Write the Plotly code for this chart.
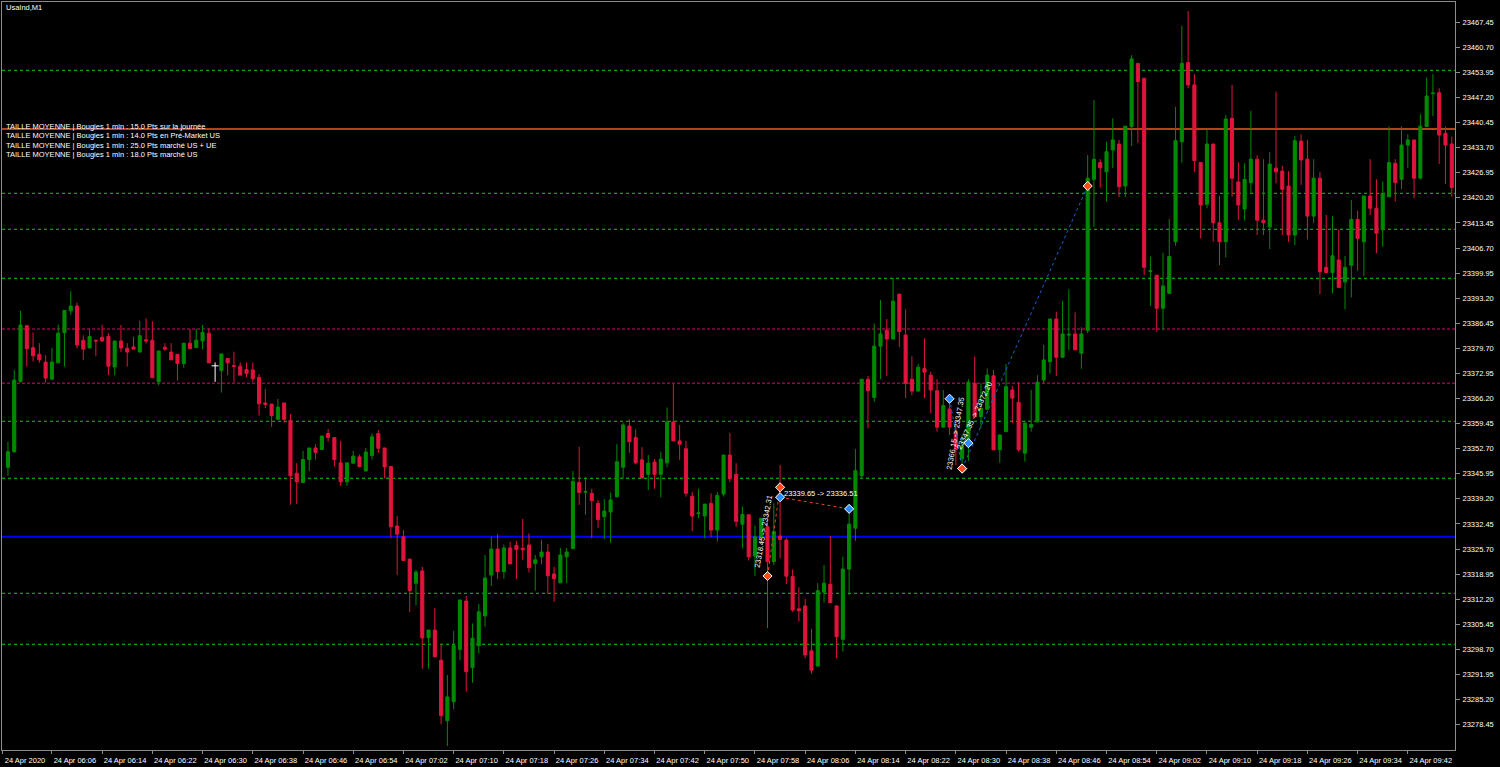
import plotly.graph_objects as go
import pandas as pd

# ---------------- data (UsaInd, M1, 24 Apr 2020, first bar 05:59) ----------------
first_bar = "2020-04-24 05:59"
opens = [
    23347.7, 23351.9, 23370.8, 23385.8, 23379.9, 23378.1, 23376.0, 23371.4, 23375.8, 23383.9,
    23389.8, 23391.1, 23381.9, 23379.8, 23381.9, 23382.7, 23382.9, 23374.7, 23381.7, 23379.7,
    23380.1, 23378.7, 23382.0, 23381.9, 23370.7, 23380.0, 23378.7, 23378.1, 23375.6, 23381.1,
    23379.9, 23381.7, 23383.8, 23375.0, 23373.7, 23377.0, 23375.1, 23374.9, 23374.0, 23373.9,
    23371.9, 23365.0, 23364.7, 23360.6, 23365.0, 23360.3, 23346.1, 23343.6, 23349.8, 23352.9,
    23352.5, 23356.8, 23355.7, 23348.9, 23343.8, 23348.8, 23350.5, 23346.7, 23350.9, 23356.8,
    23352.9, 23347.9, 23331.9, 23329.0, 23323.0, 23316.5, 23319.8, 23301.8, 23303.9, 23295.8,
    23279.5, 23284.6, 23298.7, 23311.7, 23293.8, 23299.7, 23307.7, 23318.7, 23325.7, 23319.6,
    23326.0, 23326.7, 23325.9, 23326.8, 23321.8, 23323.6, 23324.9, 23319.0, 23316.6, 23323.6,
    23325.8, 23343.6, 23341.0, 23340.7, 23338.0, 23334.4, 23335.7, 23339.8, 23347.7, 23358.8,
    23355.7, 23349.7, 23345.8, 23349.1, 23345.8, 23348.9, 23359.9, 23354.8, 23352.7, 23339.9,
    23335.2, 23334.6, 23338.0, 23330.8, 23340.5, 23351.0, 23345.8, 23332.4, 23334.9, 23323.8,
    23328.9, 23331.7, 23322.3, 23329.2, 23328.1, 23318.3, 23309.6, 23310.4, 23298.3, 23294.2,
    23314.1, 23316.2, 23310.4, 23301.4, 23320.3, 23331.3, 23345.4, 23371.4, 23366.5, 23380.3,
    23384.6, 23382.2, 23394.3, 23383.3, 23371.4, 23368.2, 23374.3, 23372.5, 23368.3, 23358.5,
    23363.4, 23357.3, 23350.0, 23354.2, 23370.3, 23361.3, 23363.3, 23372.3, 23352.4, 23357.3,
    23368.5, 23365.2, 23351.5, 23358.5, 23359.9, 23371.2, 23376.1, 23387.6, 23377.3, 23383.3,
    23383.6, 23378.4, 23384.5, 23425.2, 23429.7, 23427.2, 23433.1, 23434.7, 23423.4, 23439.4,
    23456.4, 23452.4, 23400.4, 23399.4, 23390.5, 23394.5, 23408.4, 23435.3, 23456.6, 23450.6,
    23429.7, 23418.5, 23434.7, 23413.5, 23408.4, 23441.6, 23424.5, 23417.2, 23424.3, 23430.6,
    23414.2, 23412.4, 23428.2, 23427.4, 23423.4, 23410.2, 23435.5, 23430.6, 23415.3, 23425.5,
    23401.5, 23400.1, 23403.5, 23397.6, 23402.1, 23414.4, 23408.4, 23420.7, 23417.4, 23411.6,
    23420.5, 23429.5, 23425.2, 23434.4, 23435.8, 23425.5, 23439.4, 23448.3, 23448.5, 23437.6,
    23434.7,
]
highs = [
    23354.6, 23373.9, 23389.8, 23386.0, 23384.0, 23381.1, 23377.9, 23379.8, 23386.1, 23389.9,
    23395.1, 23392.0, 23383.2, 23385.0, 23381.9, 23386.0, 23383.8, 23381.7, 23386.0, 23381.1,
    23382.8, 23387.1, 23387.8, 23387.0, 23379.0, 23381.1, 23381.1, 23378.1, 23381.1, 23384.9,
    23384.9, 23386.0, 23385.1, 23375.9, 23378.2, 23377.0, 23378.8, 23375.9, 23375.9, 23375.9,
    23372.8, 23368.8, 23364.7, 23366.1, 23365.0, 23362.0, 23348.8, 23352.1, 23352.9, 23353.9,
    23356.1, 23358.0, 23355.7, 23354.8, 23348.9, 23352.1, 23351.1, 23352.9, 23356.8, 23357.7,
    23352.9, 23347.9, 23334.6, 23330.8, 23323.0, 23320.1, 23320.9, 23303.9, 23309.8, 23300.2,
    23291.8, 23303.7, 23312.0, 23313.1, 23305.7, 23310.9, 23324.1, 23329.0, 23329.7, 23326.9,
    23327.6, 23327.9, 23333.8, 23329.9, 23324.1, 23328.1, 23327.1, 23320.9, 23326.0, 23326.0,
    23346.7, 23353.2, 23345.0, 23341.9, 23338.9, 23339.1, 23340.9, 23353.9, 23359.7, 23360.6,
    23357.9, 23353.1, 23351.0, 23349.9, 23351.9, 23363.8, 23370.1, 23359.1, 23354.8, 23341.1,
    23341.9, 23337.8, 23340.7, 23341.0, 23351.0, 23356.9, 23348.8, 23337.1, 23334.9, 23332.0,
    23334.0, 23332.7, 23338.0, 23348.3, 23328.6, 23320.2, 23315.4, 23312.3, 23304.2, 23316.5,
    23321.4, 23329.2, 23310.4, 23323.6, 23337.7, 23352.6, 23371.4, 23372.3, 23386.4, 23392.7,
    23387.6, 23398.6, 23394.3, 23390.2, 23377.6, 23375.5, 23382.4, 23373.4, 23371.4, 23368.5,
    23365.8, 23360.0, 23356.5, 23371.4, 23377.5, 23370.3, 23374.3, 23373.9, 23356.4, 23375.5,
    23369.6, 23370.6, 23360.3, 23368.5, 23372.5, 23380.6, 23387.6, 23389.6, 23392.5, 23395.6,
    23389.4, 23385.4, 23431.7, 23446.5, 23430.6, 23435.3, 23441.6, 23435.8, 23439.5, 23458.6,
    23456.4, 23452.4, 23404.4, 23399.4, 23405.4, 23414.5, 23444.7, 23466.5, 23470.5, 23453.5,
    23429.7, 23438.5, 23434.7, 23420.7, 23442.5, 23450.6, 23429.8, 23429.5, 23443.6, 23431.7,
    23430.6, 23432.5, 23448.8, 23428.8, 23427.4, 23436.9, 23437.3, 23435.8, 23430.6, 23427.2,
    23415.6, 23415.3, 23411.7, 23404.6, 23419.6, 23416.7, 23420.7, 23430.6, 23425.2, 23424.6,
    23439.4, 23430.6, 23439.4, 23437.3, 23435.8, 23442.7, 23452.6, 23453.5, 23449.7, 23439.4,
    23436.7,
]
lows = [
    23345.4, 23351.5, 23370.5, 23374.8, 23376.1, 23375.8, 23370.5, 23371.4, 23375.8, 23374.8,
    23388.7, 23379.7, 23376.6, 23379.8, 23377.6, 23381.5, 23372.5, 23372.5, 23378.7, 23374.8,
    23379.5, 23378.7, 23381.0, 23371.8, 23369.8, 23379.0, 23376.6, 23371.0, 23374.5, 23379.6,
    23379.9, 23379.5, 23375.8, 23370.7, 23367.8, 23372.5, 23370.5, 23372.5, 23371.9, 23370.7,
    23361.6, 23363.6, 23358.6, 23360.6, 23359.7, 23337.6, 23337.8, 23343.6, 23346.7, 23349.8,
    23352.5, 23354.6, 23347.9, 23342.7, 23342.7, 23348.8, 23347.7, 23346.7, 23349.8, 23351.6,
    23344.7, 23328.6, 23318.7, 23322.6, 23308.7, 23310.6, 23293.5, 23293.5, 23296.7, 23278.5,
    23272.7, 23282.6, 23295.8, 23287.3, 23289.7, 23297.6, 23304.8, 23315.8, 23317.6, 23317.7,
    23321.7, 23317.6, 23322.8, 23319.4, 23314.5, 23321.6, 23313.6, 23311.5, 23316.6, 23316.6,
    23325.8, 23337.6, 23334.9, 23328.6, 23331.4, 23328.4, 23327.4, 23339.6, 23344.7, 23351.6,
    23348.5, 23344.8, 23341.6, 23341.9, 23339.6, 23347.7, 23354.8, 23349.7, 23339.8, 23330.5,
    23334.0, 23328.6, 23328.9, 23327.7, 23339.8, 23343.7, 23331.7, 23325.9, 23322.6, 23318.5,
    23327.2, 23304.4, 23321.4, 23323.2, 23316.3, 23308.8, 23306.2, 23296.3, 23292.1, 23294.2,
    23311.3, 23311.3, 23296.3, 23298.1, 23313.3, 23327.9, 23344.6, 23358.2, 23365.3, 23371.4,
    23372.3, 23382.2, 23380.0, 23366.3, 23367.1, 23368.2, 23366.3, 23362.2, 23357.3, 23358.5,
    23356.4, 23348.3, 23346.5, 23349.4, 23361.3, 23358.2, 23363.3, 23352.4, 23348.9, 23357.3,
    23359.6, 23351.9, 23349.2, 23357.3, 23359.9, 23370.3, 23372.9, 23372.3, 23377.3, 23379.3,
    23379.3, 23374.2, 23383.8, 23412.4, 23423.0, 23419.2, 23428.2, 23420.4, 23420.5, 23434.2,
    23435.0, 23399.4, 23391.1, 23384.2, 23384.6, 23394.5, 23407.3, 23429.7, 23449.7, 23427.2,
    23409.3, 23417.4, 23408.4, 23402.1, 23404.2, 23420.5, 23414.3, 23414.1, 23421.2, 23410.2,
    23410.2, 23406.4, 23424.1, 23410.2, 23408.4, 23407.5, 23423.7, 23409.0, 23413.5, 23394.3,
    23400.1, 23394.5, 23396.1, 23390.2, 23393.4, 23400.6, 23399.2, 23415.6, 23405.3, 23407.1,
    23420.5, 23419.2, 23422.5, 23428.2, 23420.1, 23425.2, 23439.4, 23442.2, 23429.3, 23423.9,
    23420.5,
]
closes = [
    23351.9, 23371.2, 23386.0, 23379.6, 23377.7, 23376.6, 23371.7, 23376.0, 23383.8, 23389.9,
    23391.1, 23380.6, 23379.5, 23382.9, 23381.7, 23381.7, 23374.9, 23381.7, 23379.8, 23378.7,
    23379.5, 23383.1, 23381.7, 23371.8, 23379.0, 23379.5, 23376.6, 23375.6, 23381.1, 23379.6,
    23381.9, 23384.0, 23375.8, 23375.0, 23378.2, 23375.8, 23374.9, 23372.5, 23372.9, 23371.5,
    23364.8, 23364.6, 23361.6, 23363.9, 23360.6, 23345.4, 23343.8, 23349.8, 23352.9, 23351.7,
    23356.1, 23355.7, 23349.8, 23343.8, 23348.9, 23350.7, 23347.9, 23351.8, 23355.9, 23352.8,
    23347.8, 23331.7, 23329.7, 23322.6, 23314.5, 23319.5, 23301.8, 23303.9, 23296.7, 23280.9,
    23285.9, 23299.7, 23312.0, 23292.7, 23301.7, 23308.8, 23317.9, 23325.7, 23319.6, 23326.0,
    23321.7, 23325.6, 23325.5, 23320.7, 23322.8, 23324.9, 23318.5, 23317.7, 23324.1, 23324.9,
    23343.9, 23340.9, 23341.2, 23338.7, 23333.6, 23335.9, 23338.9, 23349.2, 23359.1, 23354.6,
    23348.9, 23344.8, 23348.8, 23345.8, 23349.9, 23359.9, 23354.8, 23353.9, 23340.7, 23334.6,
    23335.4, 23337.8, 23330.8, 23340.1, 23351.0, 23344.6, 23333.1, 23335.0, 23323.6, 23329.0,
    23334.0, 23322.3, 23330.4, 23328.3, 23318.4, 23309.3, 23309.1, 23297.2, 23293.1, 23314.5,
    23316.5, 23311.3, 23302.1, 23320.3, 23332.4, 23346.8, 23371.4, 23368.3, 23380.3, 23383.6,
    23382.2, 23392.4, 23384.2, 23370.3, 23368.2, 23374.6, 23373.3, 23368.5, 23358.5, 23364.3,
    23358.5, 23352.5, 23353.5, 23370.6, 23361.3, 23363.6, 23372.5, 23352.4, 23356.4, 23369.4,
    23366.3, 23352.4, 23359.6, 23359.2, 23370.6, 23376.6, 23387.6, 23377.3, 23383.6, 23383.5,
    23379.3, 23383.6, 23425.5, 23430.6, 23428.3, 23432.6, 23435.8, 23423.2, 23439.5, 23457.6,
    23451.5, 23401.5, 23400.6, 23390.5, 23396.5, 23404.4, 23435.6, 23456.4, 23450.6, 23430.2,
    23418.3, 23434.7, 23413.5, 23408.4, 23441.4, 23425.5, 23418.3, 23425.2, 23430.6, 23414.2,
    23413.5, 23429.3, 23427.2, 23422.5, 23410.2, 23435.6, 23430.4, 23415.3, 23425.5, 23400.3,
    23400.1, 23404.6, 23396.1, 23401.5, 23414.4, 23409.3, 23420.7, 23417.4, 23410.7, 23421.4,
    23429.7, 23424.3, 23434.4, 23435.8, 23425.5, 23439.5, 23447.6, 23448.4, 23437.1, 23434.4,
    23423.0,
]
doji_bars = [33]          # bar drawn as a white cross (open == close)

# horizontal levels drawn on the chart
green_levels = [23454.53, 23421.43, 23411.75, 23398.56, 23360.08, 23344.74, 23313.79, 23300.07]
maroon_levels = [23384.92, 23370.30]
orange_level = 23438.74
blue_level = 23329.03

# trade history (open time, open price, close time, close price, line colour key)
trade_open_t = ["2020-04-24 08:00", "2020-04-24 08:02", "2020-04-24 08:29", "2020-04-24 08:31"]
trade_open_p = [23318.45, 23339.65, 23366.15, 23347.35]
trade_close_t = ["2020-04-24 08:02", "2020-04-24 08:13", "2020-04-24 08:31", "2020-04-24 08:51"]
trade_close_p = [23342.31, 23336.51, 23347.35, 23423.40]
trade_kind = ["red", "red", "blue", "blue"]
extra_marker_t = ["2020-04-24 08:32"]
extra_marker_p = [23354.20]

# axis labels
y_ticks = [23467.45, 23460.70, 23453.95, 23447.20, 23440.45, 23433.70, 23426.95, 23420.20,
           23413.45, 23406.70, 23399.95, 23393.20, 23386.45, 23379.70, 23372.95, 23366.20,
           23359.45, 23352.70, 23345.95, 23339.20, 23332.45, 23325.70, 23318.95, 23312.20,
           23305.45, 23298.70, 23291.95, 23285.20, 23278.45]
x_tick_times = ["06:06", "06:14", "06:22", "06:30", "06:38", "06:46", "06:54", "07:02", "07:10",
                "07:18", "07:26", "07:34", "07:42", "07:50", "07:58", "08:06", "08:14", "08:22",
                "08:30", "08:38", "08:46", "08:54", "09:02", "09:10", "09:18", "09:26", "09:34",
                "09:42"]
x_first_label = "24 Apr 2020"
info_lines = [
    "TAILLE MOYENNE | Bougies 1 min : 15.0 Pts sur la journée",
    "TAILLE MOYENNE | Bougies 1 min : 14.0 Pts en Pré-Market US",
    "TAILLE MOYENNE | Bougies 1 min : 25.0 Pts marché US + UE",
    "TAILLE MOYENNE | Bougies 1 min : 18.0 Pts marché US",
]
chart_title = "UsaInd,M1"

# ---------------- figure ----------------
times = pd.date_range(first_bar, periods=len(opens), freq="min")
FONT = "Liberation Sans"
FS = 7.5
GREEN = "#008a00"
RED = "#e0143c"
AXIS = "#8c8c8c"

o2, h2, l2, c2 = list(opens), list(highs), list(lows), list(closes)
for i in doji_bars:
    o2[i] = h2[i] = l2[i] = c2[i] = None

fig = go.Figure()

# horizontal levels (below candles)
for v in green_levels:
    fig.add_hline(y=v, line=dict(color="#00d400", width=1, dash="3px,3px"), layer="below")
for v in maroon_levels:
    fig.add_hline(y=v, line=dict(color="#8a0a4a", width=1.5, dash="3px,2px"), layer="below")
fig.add_hline(y=orange_level, line=dict(color="#f05a1e", width=1.5), layer="below")
fig.add_hline(y=blue_level, line=dict(color="#0000ff", width=2), layer="below")

fig.add_trace(go.Candlestick(
    x=times, open=o2, high=h2, low=l2, close=c2,
    increasing=dict(line=dict(color=GREEN, width=1), fillcolor=GREEN),
    decreasing=dict(line=dict(color=RED, width=1), fillcolor=RED),
    whiskerwidth=0, showlegend=False, hoverinfo="skip",
))

# white doji cross
fig.add_trace(go.Scatter(
    x=[times[i] for i in doji_bars], y=[closes[i] for i in doji_bars], mode="markers",
    marker=dict(symbol="line-ew", size=5, line=dict(color="white", width=1)),
    error_y=dict(type="data", symmetric=False,
                 array=[highs[i] - closes[i] for i in doji_bars],
                 arrayminus=[closes[i] - lows[i] for i in doji_bars],
                 color="white", thickness=1, width=0),
    showlegend=False, hoverinfo="skip",
))

# trade lines + markers
line_col = {"red": "#e8401c", "blue": "#1a5fd0"}
for ot, op, ct, cp, k in zip(trade_open_t, trade_open_p, trade_close_t, trade_close_p, trade_kind):
    fig.add_trace(go.Scatter(x=[ot, ct], y=[op, cp], mode="lines",
                             line=dict(color=line_col[k], width=1, dash="dot"),
                             showlegend=False, hoverinfo="skip"))
mk_x = trade_open_t + trade_close_t + extra_marker_t
mk_y = trade_open_p + trade_close_p + extra_marker_p
mk_c = (["#ff4a1a", "#2a8cff", "#2a8cff", "#ff4a1a"] + ["#ff4a1a", "#2a8cff", "#ff4a1a", "#ff4a1a"]
        + ["#2a8cff"])
fig.add_trace(go.Scatter(x=mk_x, y=mk_y, mode="markers",
                         marker=dict(symbol="diamond", size=7, color=mk_c,
                                     line=dict(color="white", width=1)),
                         showlegend=False, hoverinfo="skip"))

# trade texts
fig.add_annotation(x=trade_open_t[0], y=(trade_open_p[0] + trade_close_p[0]) / 2,
                   text=f"{trade_open_p[0]:.2f} -> {trade_close_p[0]:.2f}", textangle=-80,
                   showarrow=False, font=dict(family=FONT, size=FS, color="white"), xshift=-4)
fig.add_annotation(x=trade_open_t[1], y=trade_open_p[1],
                   text=f"{trade_open_p[1]:.2f} -> {trade_close_p[1]:.2f}", showarrow=False,
                   xanchor="left", yanchor="bottom", yshift=-3, xshift=2,
                   font=dict(family=FONT, size=FS, color="white"))
fig.add_annotation(x=trade_open_t[2], y=(trade_open_p[2] + trade_close_p[2]) / 2,
                   text=f"{trade_open_p[2]:.2f} -> {trade_close_p[2]:.2f}", textangle=-80,
                   showarrow=False, font=dict(family=FONT, size=FS, color="white"), xshift=6)
fig.add_annotation(x=trade_close_t[2], y=(trade_open_p[2] + trade_close_p[2]) / 2 + 5,
                   text=f"{trade_open_p[3]:.2f} -> {extra_marker_p[0] + 18:.2f}", textangle=-65,
                   showarrow=False, font=dict(family=FONT, size=FS, color="white"), xshift=12)

# info texts (top left)
fig.add_annotation(xref="paper", yref="paper", x=0, y=0.9929, xshift=2, text=chart_title,
                   showarrow=False, xanchor="left", yanchor="middle",
                   font=dict(family=FONT, size=FS, color="white"))
for k, (txt, py) in enumerate(zip(info_lines, [0.8338, 0.8213, 0.8088, 0.7964])):
    fig.add_annotation(xref="paper", yref="paper", x=0, y=py, xshift=2, text=txt,
                       showarrow=False, xanchor="left", yanchor="middle",
                       font=dict(family=FONT, size=FS, color="white"))

tickvals = ["2020-04-24 05:58:03"] + [f"2020-04-24 {t}" for t in x_tick_times]
ticktext = [x_first_label] + [f"24 Apr {t}" for t in x_tick_times]

fig.update_layout(
    width=1500, height=767,
    margin=dict(l=2, r=45, t=2, b=17, pad=0, autoexpand=False),
    paper_bgcolor="black", plot_bgcolor="black",
    showlegend=False,
    xaxis=dict(
        type="date", range=["2020-04-24 05:58:03", "2020-04-24 09:49:31"],
        rangeslider=dict(visible=False), showgrid=False, zeroline=False, automargin=False,
        tickmode="array", tickvals=tickvals, ticktext=ticktext, tickangle=0,
        ticks="outside", ticklen=3, tickcolor=AXIS, ticklabelshift=23, ticklabelstandoff=0,
        showline=True, linecolor=AXIS, linewidth=1, mirror=True,
        tickfont=dict(family=FONT, size=FS, color="white"),
    ),
    yaxis=dict(
        side="right", range=[23271.62, 23472.91], showgrid=False, zeroline=False,
        automargin=False,
        tickmode="array", tickvals=y_ticks, ticktext=[f"{v:.2f}" for v in y_ticks],
        ticks="outside", ticklen=4, tickcolor=AXIS, ticklabelstandoff=1,
        showline=True, linecolor=AXIS, linewidth=1, mirror=True,
        tickfont=dict(family=FONT, size=FS, color="white"),
    ),
    boxgap=0.3, boxgroupgap=0.3,
)

# remove the browser's default page margin so the figure sits at the page origin
fig.write_html(
    "out.html",
    config={"displayModeBar": False},
    post_script="document.body.style.margin='0';document.body.style.padding='0';"
                "document.body.style.background='black';document.body.style.overflow='hidden';",
)
